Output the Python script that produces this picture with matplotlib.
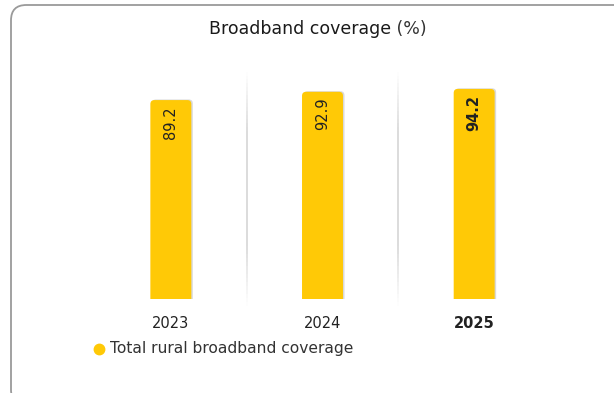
import matplotlib
matplotlib.use("Agg")
import matplotlib.pyplot as plt
from matplotlib.patches import FancyBboxPatch
from matplotlib.collections import LineCollection
import numpy as np

years = ["2023", "2024", "2025"]
coverage = [89.2, 92.9, 94.2]
highlight = "2025"
series_name = "Total rural broadband coverage"
title_main = "Broadband coverage"
title_unit = " (%)"

BAR = "#FFC906"
TEXT = "#222222"
W, H = 614, 393

plt.rcParams["font.family"] = ["DejaVu Sans"]

fig = plt.figure(figsize=(W / 100, H / 100), dpi=100)
fig.patch.set_facecolor("white")

# rounded card frame (runs off the right and bottom edges)
frame = FancyBboxPatch((11 / W, -12 / H), 650 / W, (H - 5 + 12) / H,
                       boxstyle="round,pad=0,rounding_size=0.025",
                       transform=fig.transFigure, facecolor="none",
                       edgecolor="#9a9a9a", linewidth=1.3,
                       mutation_aspect=W / H)
fig.patches.append(frame)

ax_left, ax_right = 95 / W, 550 / W
ax_bottom, ax_top = 1 - 299 / H, 1 - 76 / H
ax = fig.add_axes([ax_left, ax_bottom, ax_right - ax_left, ax_top - ax_bottom])
ax.set_xlim(-0.5, 2.5)
ax.set_ylim(0, 100)
ax.axis("off")

x = np.arange(len(years))
bw = 0.27
bars = ax.bar(x, coverage, width=bw, color="none")

# data units per pixel, for rounding the bar tops evenly
xpp = 3 / (W * (ax_right - ax_left))
ypp = 100 / (H * (ax_top - ax_bottom))
aspect = ypp / xpp
r = 4 * xpp

for rect, yr in zip(bars, years):
    x0, w, h = rect.get_x(), rect.get_width(), rect.get_height()
    shadow = FancyBboxPatch((x0 + 1.5 * xpp, -10), w, h + 10 + 0.6 * ypp,
                            boxstyle=f"round,pad=0,rounding_size={r}",
                            mutation_aspect=aspect, facecolor="#d9d9d9",
                            edgecolor="none", zorder=2)
    body = FancyBboxPatch((x0, -10), w, h + 10,
                          boxstyle=f"round,pad=0,rounding_size={r}",
                          mutation_aspect=aspect, facecolor=BAR,
                          edgecolor="none", zorder=3)
    ax.add_patch(shadow)
    ax.add_patch(body)
    ax.text(x0 + w / 2, h - 6 * ypp, f"{h:.1f}", rotation=90,
            ha="center", va="top", fontsize=10.5, color=TEXT, zorder=4,
            fontweight="bold" if yr == highlight else "normal")
    ax.text(x0 + w / 2, -24 * ypp, yr, ha="center", va="center",
            fontsize=10.5, color=TEXT,
            fontweight="bold" if yr == highlight else "normal")

# faded separators between categories
for sx in [0.5, 1.5]:
    ys = np.linspace(-0.03, 1.02, 60)
    segs = [[(sx, ys[i]), (sx, ys[i + 1])] for i in range(len(ys) - 1)]
    mid = (ys[:-1] + ys[1:]) / 2
    t = (mid - ys[0]) / (ys[-1] - ys[0])
    alpha = np.clip(np.minimum(t, 1 - t) / 0.25, 0, 1)
    cols = [(0.84, 0.84, 0.84, a) for a in alpha]
    lc = LineCollection(segs, colors=cols, linewidths=1.2,
                        transform=ax.get_xaxis_transform(), clip_on=False,
                        zorder=1)
    ax.add_collection(lc)

# title: main part plus unit
t1 = fig.text(209 / W, 1 - 29 / H, title_main, fontsize=12.5, color="#1a1a1a",
              fontweight="medium", ha="left", va="center")
fig.canvas.draw()
bb = t1.get_window_extent()
fig.text(bb.x1 / W, 1 - 29 / H, title_unit, fontsize=12.5, color="#333333",
         ha="left", va="center")

# legend
fig.lines.append(plt.Line2D([99 / W], [1 - 349 / H], marker="o",
                            markersize=7.5, color=BAR, linestyle="none",
                            transform=fig.transFigure))
fig.text(110 / W, 1 - 349 / H, series_name, fontsize=11.2, color="#333333",
         ha="left", va="center")

fig.savefig("out.png", dpi=100, facecolor="white")
